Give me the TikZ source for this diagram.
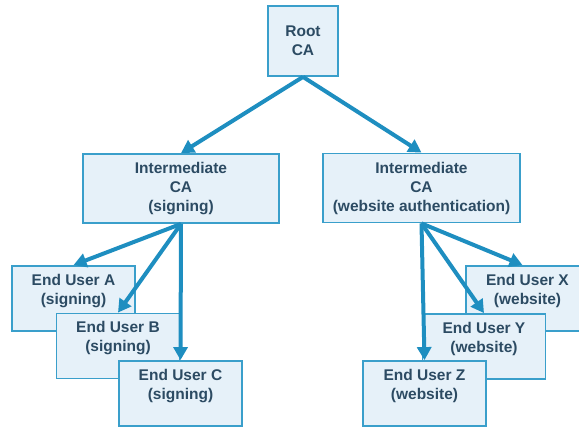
\documentclass[tikz,border=0pt]{standalone}
\usepackage{fontspec}
\setmainfont{Liberation Sans}
\usetikzlibrary{arrows.meta}
\definecolor{boxfill}{HTML}{E6F1F9}
\definecolor{boxline}{HTML}{3A9FCB}
\definecolor{arrowc}{HTML}{1E8EC0}
\definecolor{textc}{HTML}{2C4B63}
\begin{document}
\begin{tikzpicture}
  [x=1pt,y=-1pt,every node/.style={rectangle,draw=boxline,line width=1.8pt,fill=boxfill,
   text=textc,font=\fontsize{15.5}{19}\selectfont\bfseries,align=center,inner sep=0pt}]
  \tikzstyle{ca} = [minimum width=70pt,minimum height=70pt]
  \tikzstyle{inter} = [minimum width=196pt,minimum height=69pt]
  \tikzstyle{user} = [minimum width=123pt,minimum height=65pt]
  \tikzstyle{link} = [draw=arrowc,line width=4pt,-{Triangle[length=13pt,width=14pt]}]
  \clip (0,0) rectangle (579,430);
  \node[ca] (root) at (303,41) {Root\\CA};
  \node[inter] (n1) at (181,188.5) {Intermediate\\CA\\(signing)};
  \node[inter,minimum width=197pt] (n2) at (421.5,188) {Intermediate\\CA\\(website authentication)};
  \node[user] (a) at (73.5,298.5) {End User A\\(signing)\\\mbox{}};
  \node[user] (b) at (118,346) {End User B\\(signing)\\\mbox{}};
  \node[user] (c) at (180.5,393.5) {End User C\\(signing)\\\mbox{}};
  \node[user] (x) at (527.5,298.5) {End User X\\(website)\\\mbox{}};
  \node[user] (y) at (484,346.5) {End User Y\\(website)\\\mbox{}};
  \node[user] (z) at (424.5,393.5) {End User Z\\(website)\\\mbox{}};
  \foreach \source /\dest in {root/n1,root/n2,n1/a,n1/b,n1/c,n2/y,n2/z}
   \draw[link] (\source.south) -- (\dest.north);
  \draw[link] (n2.south) -- ([xshift=-5pt]x.north);
\end{tikzpicture}
\end{document}
